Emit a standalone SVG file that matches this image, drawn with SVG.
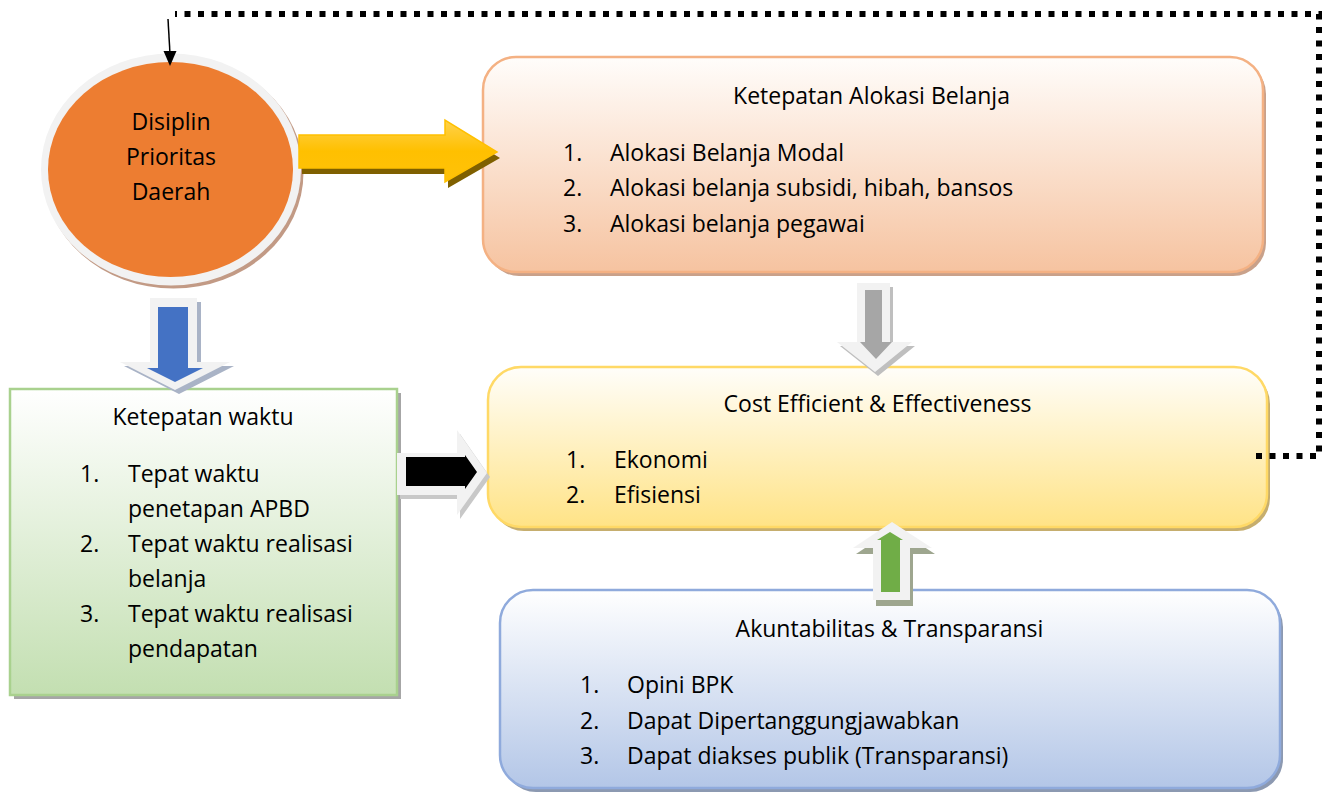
<svg xmlns="http://www.w3.org/2000/svg" width="1323" height="794" viewBox="0 0 1323 794">
<defs>
<style>
text{font-family:"Open Sans","Noto Sans",sans-serif;font-size:23px;fill:#000}
.t{text-anchor:middle}
</style>
<linearGradient id="gOr" x1="0" y1="0" x2="0" y2="1"><stop offset="0" stop-color="#fffdfb"/><stop offset="1" stop-color="#f6c3a0"/></linearGradient>
<linearGradient id="gYe" x1="0" y1="0" x2="0" y2="1"><stop offset="0" stop-color="#fffefa"/><stop offset="1" stop-color="#ffe386"/></linearGradient>
<linearGradient id="gBl" x1="0" y1="0" x2="0" y2="1"><stop offset="0" stop-color="#ffffff"/><stop offset="1" stop-color="#b3c6e7"/></linearGradient>
<linearGradient id="gGr" x1="0" y1="0" x2="0" y2="1"><stop offset="0" stop-color="#ffffff"/><stop offset="1" stop-color="#c3dfb1"/></linearGradient>
<linearGradient id="gGold" x1="0" y1="0" x2="0" y2="1"><stop offset="0" stop-color="#ffd24d"/><stop offset="0.5" stop-color="#ffc000"/><stop offset="1" stop-color="#ffc20a"/></linearGradient>
</defs>

<g id="node-disiplin">
<ellipse cx="173.5" cy="172.5" rx="130" ry="116" fill="#c29a85"/>
<ellipse cx="171" cy="169.5" rx="130" ry="116" fill="#f2f2f2"/>
<ellipse cx="170.5" cy="169.5" rx="122.5" ry="107.5" fill="#ed7d31"/>
<text class="t" x="171" y="130">Disiplin</text>
<text class="t" x="171" y="165">Prioritas</text>
<text class="t" x="171" y="200">Daerah</text>
</g>

<g id="node-alokasi">
<rect x="486" y="61" width="780" height="215" rx="33" fill="#c9a18a"/>
<rect x="483" y="57" width="780" height="215" rx="33" fill="url(#gOr)" stroke="#f4b183" stroke-width="2.5"/>
<text class="t" x="871.5" y="104">Ketepatan Alokasi Belanja</text>
<text x="563" y="161">1.</text><text x="610" y="161">Alokasi Belanja Modal</text>
<text x="563" y="196">2.</text><text x="610" y="196">Alokasi belanja subsidi, hibah, bansos</text>
<text x="563" y="231.5">3.</text><text x="610" y="231.5">Alokasi belanja pegawai</text>
</g>

<g id="node-cost">
<rect x="491" y="371" width="779" height="160" rx="33" fill="#c6ae6e"/>
<rect x="488" y="367" width="779" height="160" rx="33" fill="url(#gYe)" stroke="#ffd966" stroke-width="2.5"/>
<text class="t" x="877.5" y="412">Cost Efficient &amp; Effectiveness</text>
<text x="566" y="468">1.</text><text x="614" y="468">Ekonomi</text>
<text x="566" y="503">2.</text><text x="614" y="503">Efisiensi</text>
</g>

<g id="node-akuntabilitas">
<rect x="503" y="594" width="780" height="198" rx="33" fill="#8c99b1"/>
<rect x="500" y="590" width="780" height="198" rx="33" fill="url(#gBl)" stroke="#8faadc" stroke-width="2.5"/>
<text class="t" x="889.5" y="637">Akuntabilitas &amp; Transparansi</text>
<text x="580" y="693">1.</text><text x="627" y="693">Opini BPK</text>
<text x="580" y="728.5">2.</text><text x="627" y="728.5">Dapat Dipertanggungjawabkan</text>
<text x="580" y="764">3.</text><text x="627" y="764">Dapat diakses publik (Transparansi)</text>
</g>

<g id="node-waktu">
<rect x="14" y="393" width="387" height="306" fill="#a6a6a6"/>
<rect x="10" y="389" width="387" height="306" fill="url(#gGr)" stroke="#a9d18e" stroke-width="2.5"/>
<text class="t" x="203" y="425">Ketepatan waktu</text>
<text x="80" y="482">1.</text><text x="128" y="482">Tepat waktu</text>
<text x="128" y="517">penetapan APBD</text>
<text x="80" y="552">2.</text><text x="128" y="552">Tepat waktu realisasi</text>
<text x="128" y="587">belanja</text>
<text x="80" y="622">3.</text><text x="128" y="622">Tepat waktu realisasi</text>
<text x="128" y="657">pendapatan</text>
</g>

<g id="connectors">
<path d="M1256 456 L1319 456 L1319 14 L175 14" fill="none" stroke="#000" stroke-width="6" stroke-dasharray="6 7.5"/>
<line x1="168" y1="19" x2="170" y2="54" stroke="#000" stroke-width="1.5"/>
<path d="M163.5 51 L176.5 51 L170 66 Z" fill="#000"/>
<!-- yellow right arrow -->
<polygon points="302,141 448,141 448,126 500,158 448,188 448,174 302,174" fill="#7f6000"/>
<polygon points="299,135 445,135 445,120 497,152 445,182 445,168 299,168" fill="url(#gGold)" stroke="#ffc000" stroke-width="1.5"/>
<!-- blue down arrow -->
<polygon points="154,302 201,302 201,366 234,366 179,394 124,366 154,366" fill="#a9b3c6"/>
<polygon points="150,298 197,298 197,362 230,362 175,390 120,362 150,362" fill="#f2f2f2"/>
<polygon points="158,307 188,307 188,368 203,368 175,382 147,368 158,368" fill="#4472c4"/>
<!-- black right arrow -->
<polygon points="400,457 460,457 460,434 490,477 460,519 460,499 400,499" fill="#c8c8c8"/>
<polygon points="397,453 457,453 457,430 487,473 457,515 457,495 397,495" fill="#f2f2f2"/>
<polygon points="406,457 465,457 465,455 477,472 465,489 465,486 406,486" fill="#000"/>
<!-- grey down arrow -->
<polygon points="860,287 893,287 893,346 915,346 878,376 840,346 860,346" fill="#bfbfbf"/>
<polygon points="857,283 890,283 890,342 912,342 875,372 837,342 857,342" fill="#f2f2f2"/>
<polygon points="865,290 882,290 882,342 892,342 876,359 860,342 865,342" fill="#a6a6a6"/>
<!-- green up arrow -->
<polygon points="895,528 935,554 913,554 913,606 876,606 876,554 856,554" fill="#9ea68f"/>
<polygon points="892,522 932,548 910,548 910,600 873,600 873,548 853,548" fill="#f2f2f2"/>
<polygon points="890,532 903,540 900,540 900,592 881,592 881,540 877,540" fill="#70ad47"/>
</g>
</svg>
